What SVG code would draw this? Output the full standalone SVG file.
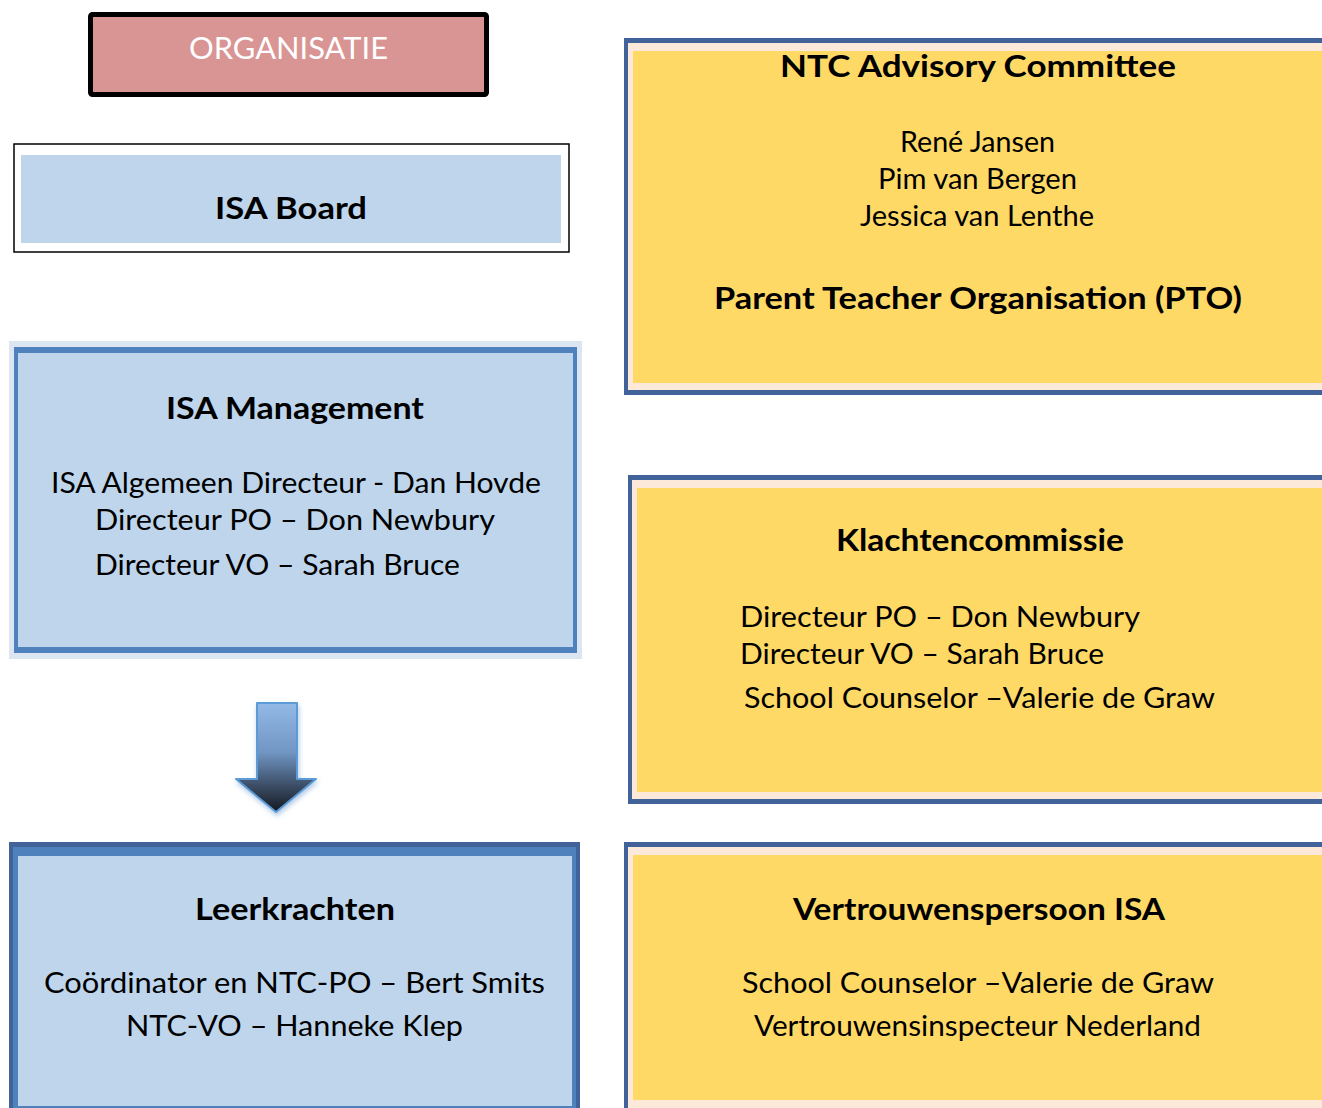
<svg xmlns="http://www.w3.org/2000/svg" width="1322" height="1108" viewBox="0 0 1322 1108">
<style>
text{font-family:Lato,"Open Sans","Liberation Sans",sans-serif;fill:#000;}
.t{font-size:31px;font-weight:bold;}
.r{font-size:28px;}
.yb{fill:#41639a;}
.pe{fill:#fde9d9;}
.ye{fill:#ffd966;}
.bf{fill:#bed5ec;}
</style>
<defs>
<linearGradient id="ag" x1="0" y1="0" x2="0" y2="1">
<stop offset="0" stop-color="#93b9e6"/>
<stop offset="0.45" stop-color="#7196c4"/>
<stop offset="0.75" stop-color="#3d4f68"/>
<stop offset="1" stop-color="#141820"/>
</linearGradient>
<filter id="sh" x="-30%" y="-20%" width="160%" height="140%">
<feGaussianBlur in="SourceAlpha" stdDeviation="2.5"/>
<feOffset dx="1" dy="3" result="b"/>
<feFlood flood-color="#7da7d9" flood-opacity="0.6"/>
<feComposite in2="b" operator="in"/>
<feMerge><feMergeNode/><feMergeNode in="SourceGraphic"/></feMerge>
</filter>
</defs>
<rect width="1322" height="1108" fill="#fff"/>

<g id="organisatie">
<rect x="90.5" y="14.5" width="396" height="80" rx="2" fill="#d99594" stroke="#000" stroke-width="5"/>
<text x="189" y="59" font-size="30" style="fill:#fff" textLength="199" lengthAdjust="spacingAndGlyphs">ORGANISATIE</text>
</g>

<g id="isa-board">
<rect x="14" y="144" width="555" height="108" fill="#fff" stroke="#000" stroke-width="1.5"/>
<rect x="21" y="155" width="540" height="88" class="bf"/>
<text class="t" x="215" y="219" textLength="152" lengthAdjust="spacingAndGlyphs">ISA Board</text>
</g>

<g id="isa-management">
<rect x="9" y="341" width="573" height="318" fill="#dbe6f2"/>
<rect x="14" y="347" width="563" height="306" fill="#4f81bd"/>
<rect x="18" y="353" width="555" height="294" class="bf"/>
<text class="t" x="166" y="419" textLength="258" lengthAdjust="spacingAndGlyphs">ISA Management</text>
<text class="r" x="51" y="493" textLength="490" lengthAdjust="spacingAndGlyphs">ISA Algemeen Directeur - Dan Hovde</text>
<text class="r" x="95" y="530" textLength="400" lengthAdjust="spacingAndGlyphs">Directeur PO – Don Newbury</text>
<text class="r" x="95" y="575" textLength="365" lengthAdjust="spacingAndGlyphs">Directeur VO – Sarah Bruce</text>
</g>

<g id="connectors">
<path d="M257,703 L297,703 L297,779 L316,779 L276,812 L236,779 L257,779 Z" fill="url(#ag)" stroke="#5b9bd5" stroke-width="2" stroke-linejoin="round" filter="url(#sh)"/>
</g>

<g id="leerkrachten">
<rect x="9" y="842" width="571" height="270" class="yb"/>
<rect x="13" y="847" width="563" height="262" fill="#4f81bd"/>
<rect x="18" y="856" width="554" height="250" class="bf"/>
<text class="t" x="195" y="920" textLength="200" lengthAdjust="spacingAndGlyphs">Leerkrachten</text>
<text class="r" x="44" y="993" textLength="501" lengthAdjust="spacingAndGlyphs">Coördinator en NTC-PO – Bert Smits</text>
<text class="r" x="126" y="1036" textLength="337" lengthAdjust="spacingAndGlyphs">NTC-VO – Hanneke Klep</text>
</g>

<g id="ntc-advisory">
<rect x="624" y="38" width="710" height="357" class="yb"/>
<rect x="628" y="43" width="710" height="347" class="pe"/>
<rect x="633" y="51" width="700" height="332" class="ye"/>
<text class="t" x="780" y="77" textLength="396" lengthAdjust="spacingAndGlyphs">NTC Advisory Committee</text>
<text class="r" x="900" y="152" textLength="155" lengthAdjust="spacingAndGlyphs">René Jansen</text>
<text class="r" x="878" y="189" textLength="199" lengthAdjust="spacingAndGlyphs">Pim van Bergen</text>
<text class="r" x="860" y="226" textLength="234" lengthAdjust="spacingAndGlyphs">Jessica van Lenthe</text>
<text class="t" x="714" y="309" textLength="528" lengthAdjust="spacingAndGlyphs">Parent Teacher Organisation (PTO)</text>
</g>

<g id="klachtencommissie">
<rect x="628" y="475" width="710" height="329" class="yb"/>
<rect x="632" y="480" width="710" height="319" class="pe"/>
<rect x="637" y="488" width="700" height="304" class="ye"/>
<text class="t" x="836" y="551" textLength="288" lengthAdjust="spacingAndGlyphs">Klachtencommissie</text>
<text class="r" x="740" y="627" textLength="400" lengthAdjust="spacingAndGlyphs">Directeur PO – Don Newbury</text>
<text class="r" x="740" y="664" textLength="364" lengthAdjust="spacingAndGlyphs">Directeur VO – Sarah Bruce</text>
<text class="r" x="744" y="708" textLength="471" lengthAdjust="spacingAndGlyphs">School Counselor –Valerie de Graw</text>
</g>

<g id="vertrouwenspersoon">
<rect x="624" y="842" width="710" height="280" class="yb"/>
<rect x="628" y="847" width="710" height="270" class="pe"/>
<rect x="633" y="855" width="700" height="245" class="ye"/>
<text class="t" x="793" y="920" textLength="372" lengthAdjust="spacingAndGlyphs">Vertrouwenspersoon ISA</text>
<text class="r" x="742" y="993" textLength="472" lengthAdjust="spacingAndGlyphs">School Counselor –Valerie de Graw</text>
<text class="r" x="754" y="1036" textLength="447" lengthAdjust="spacingAndGlyphs">Vertrouwensinspecteur Nederland</text>
</g>
</svg>
